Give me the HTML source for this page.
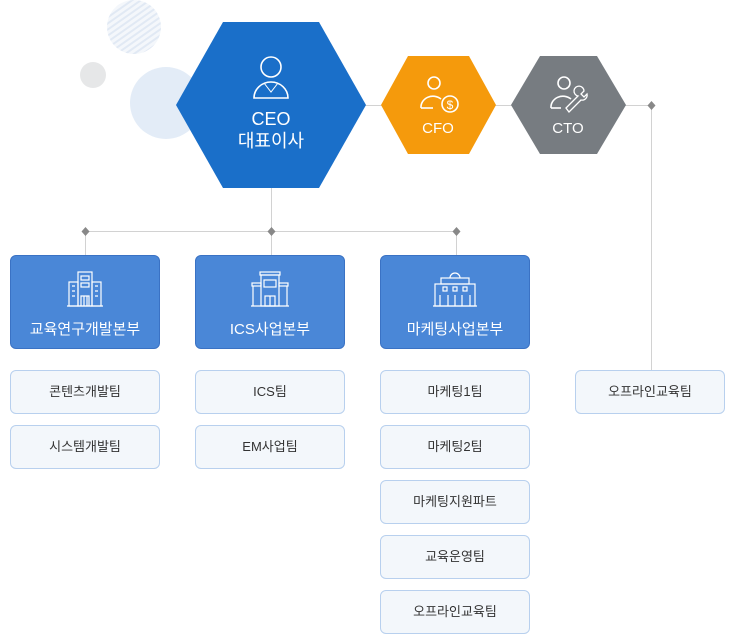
<!DOCTYPE html>
<html><head><meta charset="utf-8"><style>
*{margin:0;padding:0;box-sizing:border-box}
body{width:735px;height:635px;background:#fff;position:relative;overflow:hidden;font-family:"Liberation Sans","Noto Sans CJK KR",sans-serif}
.d{position:absolute;width:150px;height:94px;background:#4a87d7;border:1px solid #3a72c4;border-radius:6px;color:#fff;font-size:15px;text-align:center}
.d span{position:absolute;left:0;right:0;top:62px}
.d svg{position:absolute;left:50%;top:14px;transform:translateX(-50%)}
.s{position:absolute;width:150px;height:44px;background:#f3f7fb;border:1px solid #b8d0ee;border-radius:6px;color:#333;font-size:13px;line-height:42px;text-align:center}
.t{position:absolute;color:#fff;text-align:center}
</style></head><body>
<svg width="735" height="635" style="position:absolute;left:0;top:0">
<defs><pattern id="st" width="5" height="5" patternUnits="userSpaceOnUse" patternTransform="rotate(-35)"><rect width="5" height="5" fill="#f4f7fb"/><rect width="5" height="2" fill="#e1e9f4"/></pattern></defs>
<circle cx="134" cy="27" r="27" fill="url(#st)"/>
<circle cx="93" cy="75" r="13" fill="#e6e7e8"/>
<circle cx="166" cy="103" r="36" fill="#e3ecf7"/>
<g stroke="#d2d2d2" stroke-width="1" fill="none">
<line x1="360" y1="105.5" x2="651" y2="105.5"/>
<line x1="651.5" y1="105" x2="651.5" y2="370"/>
<line x1="271.5" y1="185" x2="271.5" y2="255"/>
<line x1="85" y1="231.5" x2="456" y2="231.5"/>
<line x1="85.5" y1="231" x2="85.5" y2="255"/>
<line x1="456.5" y1="231" x2="456.5" y2="255"/>
</g>
<g fill="#888">
<path d="M651.5 101l4 4.5-4 4.5-4-4.5z"/>
<path d="M85.5 227l4 4.5-4 4.5-4-4.5z"/>
<path d="M271.5 227l4 4.5-4 4.5-4-4.5z"/>
<path d="M456.5 227l4 4.5-4 4.5-4-4.5z"/>
</g>
<polygon points="176,105 223,22 319,22 366,105 319,188 223,188" fill="#1a6fc9"/>
<polygon points="381,105 408,56 469,56 496,105 469,154 408,154" fill="#f59a0c"/>
<polygon points="511,105 540,56 597,56 626,105 597,154 540,154" fill="#777c81"/>
<g stroke="#fff" stroke-width="1.6" fill="none">
<circle cx="271" cy="67" r="10"/>
<path d="M254 98a17 16 0 0 1 34 0z"/>
<path d="M264 83l7 9 7-9" stroke-width="1"/>
<circle cx="434" cy="83" r="6"/>
<path d="M421 108a12 11 0 0 1 20-9"/><path d="M421 108h12"/>
<circle cx="450" cy="104" r="8"/>
<circle cx="564" cy="83" r="6"/>
<path d="M551 108a12 11 0 0 1 20-9"/><path d="M551 108h10"/>
<path d="M566 108l12-12a5 5 0 1 1 6-5l-3 3 3 3 3-3a5 5 0 0 1-6 6l-12 12z" stroke-width="1.3"/>
</g>
<text x="450" y="109" font-size="12" fill="#fff" text-anchor="middle" font-family="Liberation Sans">$</text>
</svg>
<div class="t" style="left:221px;top:108px;width:100px;font-size:18px;line-height:22px">CEO<br>대표이사</div>
<div class="t" style="left:398px;top:120px;width:80px;font-size:15px">CFO</div>
<div class="t" style="left:528px;top:120px;width:80px;font-size:15px">CTO</div>

<div class="d" style="left:10px;top:255px"><svg width="38" height="38" viewBox="0 0 38 38" fill="none" stroke="#fff" stroke-width="1.2"><rect x="12" y="2" width="14" height="34"/><rect x="3" y="12" width="9" height="24"/><rect x="26" y="12" width="9" height="24"/><rect x="15" y="6" width="8" height="4"/><rect x="15" y="13" width="8" height="4"/><path d="M15 36V26h8v10M18 26v10M21 26v10"/><path d="M6 16h3M6 21h3M6 26h3M29 16h3M29 21h3M29 26h3"/><path d="M1 36h36"/></svg><span>교육연구개발본부</span></div>
<div class="d" style="left:195px;top:255px"><svg width="40" height="38" viewBox="0 0 40 38" fill="none" stroke="#fff" stroke-width="1.2"><rect x="10" y="2" width="20" height="3"/><rect x="11" y="5" width="18" height="31"/><rect x="2" y="13" width="9" height="3"/><rect x="29" y="13" width="9" height="3"/><path d="M3 16v20M37 16v20M1 36h38"/><rect x="14" y="10" width="12" height="7"/><rect x="15" y="26" width="10" height="10"/><path d="M20 26v10"/></svg><span>ICS사업본부</span></div>
<div class="d" style="left:380px;top:255px"><svg width="48" height="38" viewBox="0 0 48 38" fill="none" stroke="#fff" stroke-width="1.2"><path d="M19 8a5 5 0 0 1 10 0"/><rect x="10" y="8" width="28" height="6"/><rect x="4" y="14" width="40" height="22"/><rect x="12" y="17" width="4" height="4"/><rect x="22" y="17" width="4" height="4"/><rect x="32" y="17" width="4" height="4"/><path d="M9 25v11M17 25v11M24 25v11M31 25v11M39 25v11M2 36h44"/></svg><span>마케팅사업본부</span></div>

<div class="s" style="left:10px;top:370px">콘텐츠개발팀</div>
<div class="s" style="left:10px;top:425px">시스템개발팀</div>
<div class="s" style="left:195px;top:370px">ICS팀</div>
<div class="s" style="left:195px;top:425px">EM사업팀</div>
<div class="s" style="left:380px;top:370px">마케팅1팀</div>
<div class="s" style="left:380px;top:425px">마케팅2팀</div>
<div class="s" style="left:380px;top:480px">마케팅지원파트</div>
<div class="s" style="left:380px;top:535px">교육운영팀</div>
<div class="s" style="left:380px;top:590px">오프라인교육팀</div>
<div class="s" style="left:575px;top:370px">오프라인교육팀</div>
</body></html>
